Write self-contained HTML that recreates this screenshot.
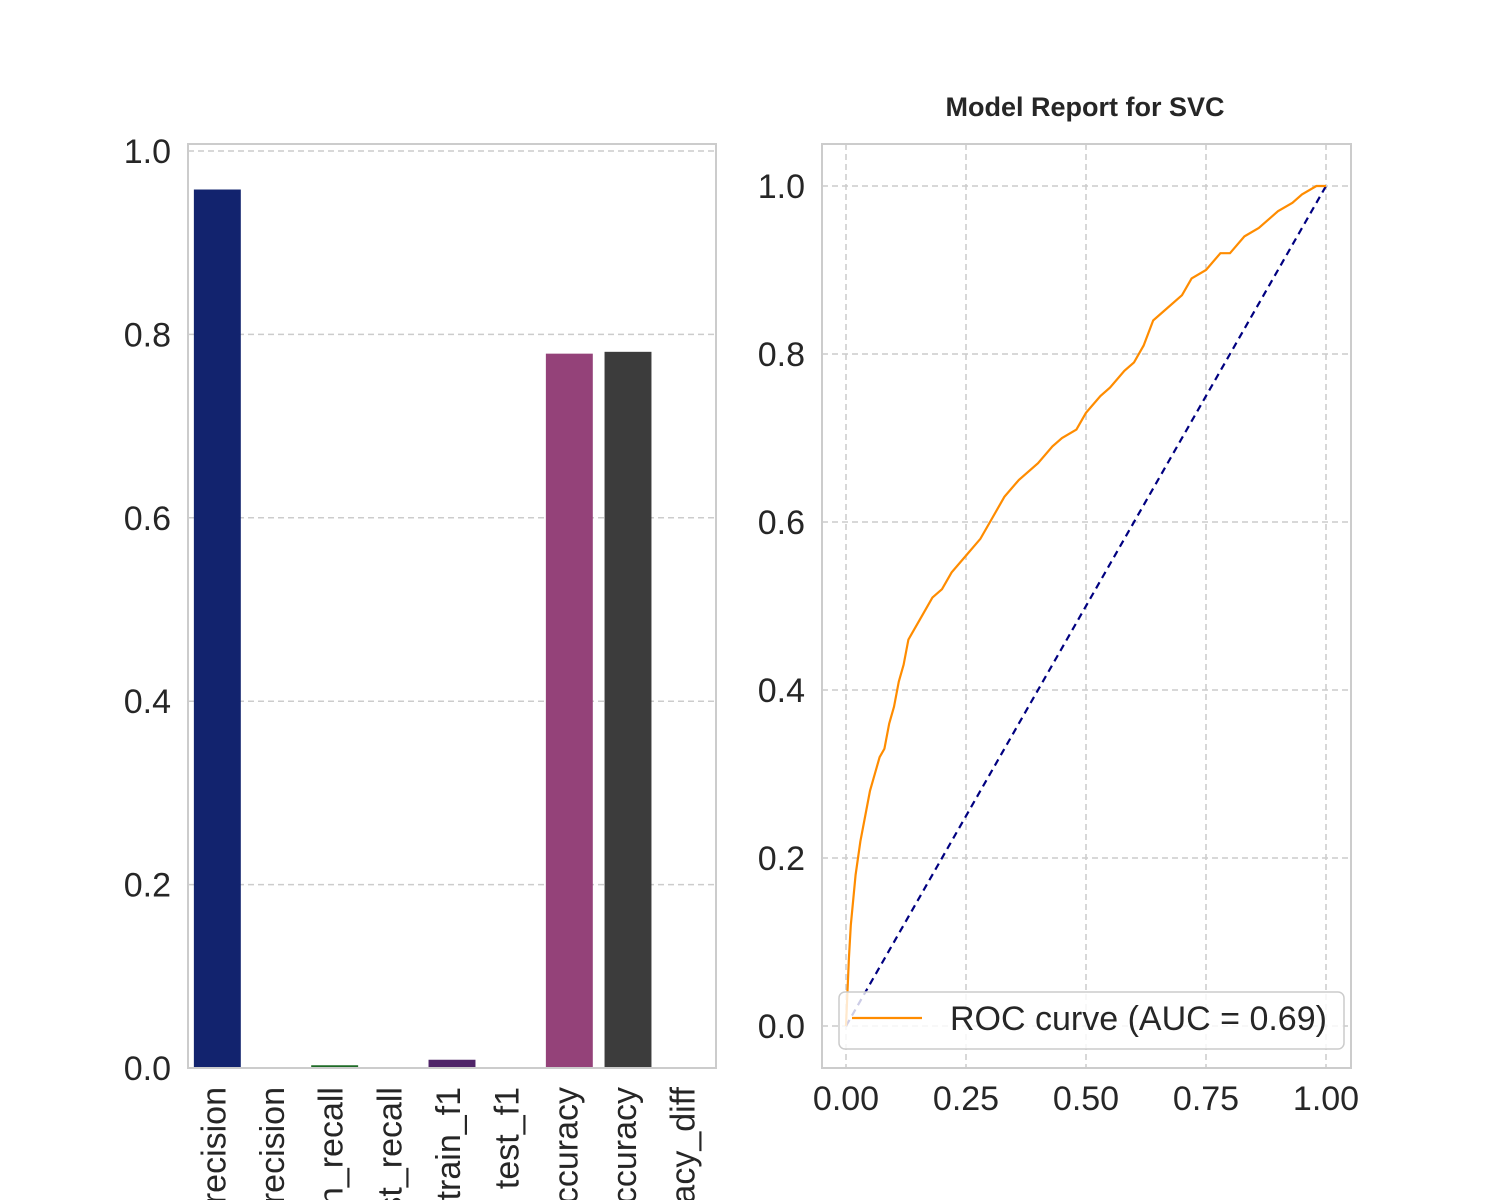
<!DOCTYPE html>
<html><head><meta charset="utf-8"><style>
html,body{margin:0;background:#fff;width:1500px;height:1200px;overflow:hidden}
svg{display:block;font-family:"Liberation Sans",Arial,sans-serif}
</style></head><body>
<svg id="s" width="1500" height="1200" viewBox="0 0 1500 1200" overflow="hidden">
<g id="left"></g>
<g id="right"></g>
</svg>
<script>
const categories=["train_precision","test_precision","train_recall","test_recall","train_f1","test_f1","train_accuracy","test_accuracy","accuracy_diff"];
const barValues=[0.958,0,0.003,0,0.009,0,0.779,0.781,0];
const barColors=["#12236e","#8a3c14","#1e6b26","#8b1a1a","#4f2468","#6b4a2a","#944279","#3c3c3c","#b08a20"];
const yTicksLeft=[0,0.2,0.4,0.6,0.8,1.0];
const rocFpr=[0,0.003,0.006,0.01,0.015,0.02,0.03,0.04,0.05,0.06,0.07,0.08,0.09,0.1,0.11,0.12,0.13,0.14,0.16,0.18,0.2,0.22,0.25,0.28,0.3,0.33,0.36,0.4,0.43,0.45,0.48,0.5,0.53,0.55,0.58,0.6,0.62,0.64,0.66,0.7,0.72,0.75,0.78,0.8,0.83,0.86,0.9,0.93,0.95,0.98,1];
const rocTpr=[0,0.04,0.08,0.12,0.15,0.18,0.22,0.25,0.28,0.3,0.32,0.33,0.36,0.38,0.41,0.43,0.46,0.47,0.49,0.51,0.52,0.54,0.56,0.58,0.6,0.63,0.65,0.67,0.69,0.7,0.71,0.73,0.75,0.76,0.78,0.79,0.81,0.84,0.85,0.87,0.89,0.9,0.92,0.92,0.94,0.95,0.97,0.98,0.99,1.0,1.0];
const rocTicks=[0,0.25,0.5,0.75,1.0];
const rocYTicks=[0,0.2,0.4,0.6,0.8,1.0];
const NS="http://www.w3.org/2000/svg";
function mk(p,t,a,txt){const e=document.createElementNS(NS,t);for(const k in a)e.setAttribute(k,a[k]);if(txt!==undefined)e.textContent=txt;p.appendChild(e);return e;}
const FS=34;
// left
const L=document.getElementById('left');
const lx0=188,lx1=716,ly0=144,ly1=1068;
const yL=v=>1068-v*917;
const bw=(lx1-lx0)/categories.length;
yTicksLeft.forEach(t=>{
 const g=mk(L,'line',{x1:lx0,x2:lx1,y1:yL(t),y2:yL(t),stroke:'#cccccc','stroke-width':1.5,'stroke-dasharray':'6,4'});
 
 
 const tx=mk(L,'text',{x:lx0-17,y:yL(t)+12,'text-anchor':'end','font-size':FS,fill:'#262626'},t.toFixed(1));
 
 
});
categories.forEach((c,i)=>{
 const x=lx0+bw*i+bw*0.1;
 const r=mk(L,'rect',{x:x,y:yL(barValues[i]),width:bw*0.8,height:barValues[i]*917,fill:barColors[i]});
 
 
 const cx=lx0+bw*(i+0.5)+8;
 const t=mk(L,'text',{x:0,y:0,'text-anchor':'end','font-size':FS,fill:'#262626',transform:`translate(${cx},1087) rotate(-90)`},c);
 
 
});
const lb=mk(L,'rect',{x:lx0,y:ly0,width:lx1-lx0,height:ly1-ly0,fill:'none',stroke:'#cccccc','stroke-width':2});


// right
const R=document.getElementById('right');
const rx0=822,rx1=1351,ry0=144,ry1=1068;
const xR=v=>846+v*480, yR=v=>1026-v*840;
rocTicks.forEach(t=>{
 const g=mk(R,'line',{x1:xR(t),x2:xR(t),y1:ry0,y2:ry1,stroke:'#cccccc','stroke-width':1.5,'stroke-dasharray':'6,4'});
 
 
 const tx=mk(R,'text',{x:xR(t),y:1110,'text-anchor':'middle','font-size':FS,fill:'#262626'},t.toFixed(2));
 
 
});
rocYTicks.forEach(t=>{
 const g=mk(R,'line',{x1:rx0,x2:rx1,y1:yR(t),y2:yR(t),stroke:'#cccccc','stroke-width':1.5,'stroke-dasharray':'6,4'});
 
 
 const tx=mk(R,'text',{x:rx0-17,y:yR(t)+12,'text-anchor':'end','font-size':FS,fill:'#262626'},t.toFixed(1));
 
 
});
const diag=mk(R,'line',{x1:xR(0),y1:yR(0),x2:xR(1),y2:yR(1),stroke:'#000080','stroke-width':2.2,'stroke-dasharray':'7,5'});


const roc=mk(R,'polyline',{points:rocFpr.map((f,i)=>xR(f)+','+yR(rocTpr[i])).join(' '),fill:'none',stroke:'#ff8c00','stroke-width':2.2});


const rb=mk(R,'rect',{x:rx0,y:ry0,width:rx1-rx0,height:ry1-ry0,fill:'none',stroke:'#cccccc','stroke-width':2});


const title=mk(R,'text',{x:1085,y:116,'text-anchor':'middle','font-size':27,'font-weight':'bold',fill:'#262626'},'Model Report for SVC');


const leg=mk(R,'g',{});


mk(leg,'rect',{x:839,y:992,width:505,height:57,rx:6,fill:'rgba(255,255,255,0.8)',stroke:'#cccccc','stroke-width':1.5});
const ll=mk(leg,'line',{x1:852,x2:922,y1:1018,y2:1018,stroke:'#ff8c00','stroke-width':2.2});


const lt=mk(leg,'text',{x:950,y:1030,'font-size':FS,fill:'#262626'},'ROC curve (AUC = 0.69)');


</script>
</body></html>
